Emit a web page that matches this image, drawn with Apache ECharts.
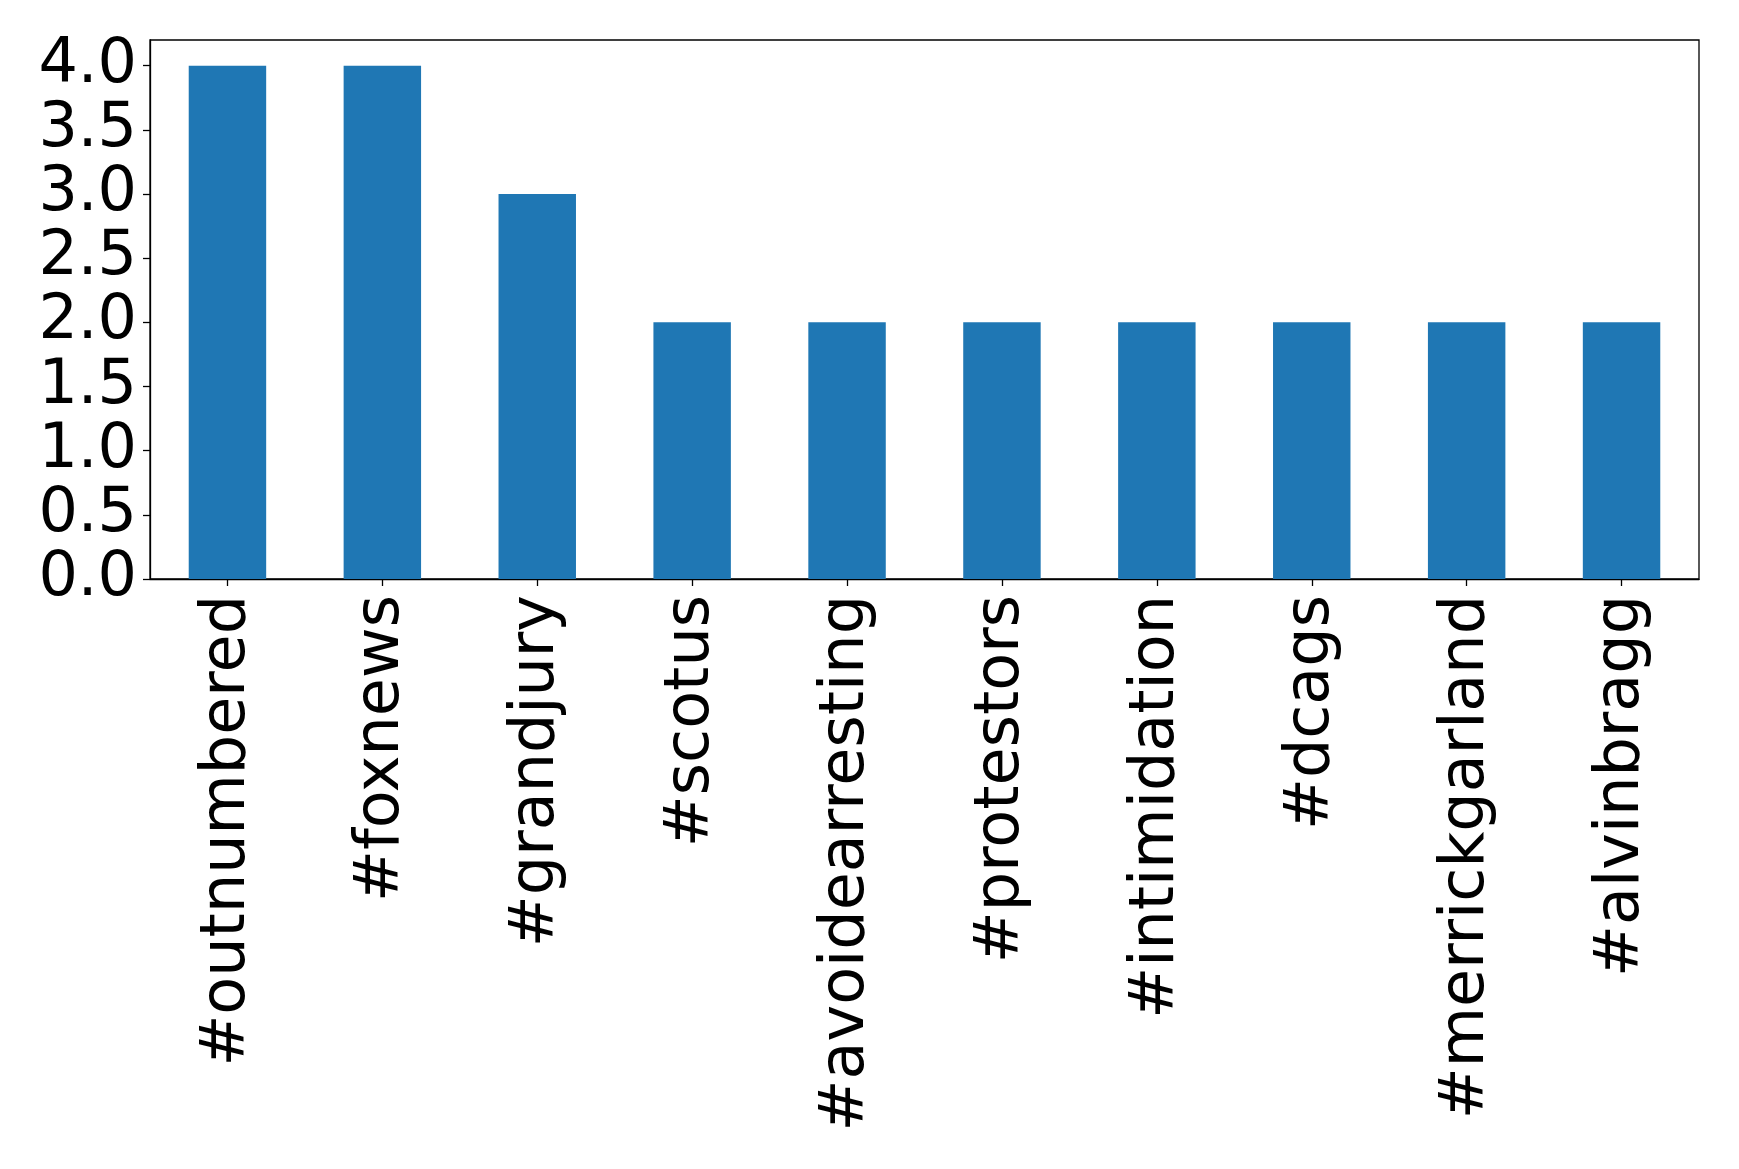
<!DOCTYPE html>
<html>
<head>
<meta charset="utf-8">
<script src="https://cdn.jsdelivr.net/npm/echarts@6/dist/echarts.min.js"></script>
<style>
html,body{margin:0;padding:0;background:#fff;}
#chart{width:1739px;height:1169px;}
</style>
</head>
<body>
<div id="chart"></div>
<script>
const categories = ['#outnumbered','#foxnews','#grandjury','#scotus','#avoidearresting','#protestors','#intimidation','#dcags','#merrickgarland','#alvinbragg'];
const counts = [4, 4, 3, 2, 2, 2, 2, 2, 2, 2];
const yTicks = [0, 0.5, 1, 1.5, 2, 2.5, 3, 3.5, 4];

const chart = echarts.init(document.getElementById('chart'), null, {renderer: 'canvas'});
chart.setOption({
  animation: false,
  grid: {left: 150, top: 40, width: 1549, height: 539, show: true, borderColor: '#000', borderWidth: 1.3, backgroundColor: 'transparent'},
  xAxis: {
    type: 'category',
    data: categories,
    boundaryGap: true,
    axisLine: {show: true, lineStyle: {color: '#000', width: 1.3}},
    axisTick: {show: true, alignWithLabel: true, length: 7, lineStyle: {color: '#000', width: 1.3}},
    axisLabel: {rotate: 90, margin: 16, interval: 0, color: '#000', fontSize: 62, fontFamily: 'DejaVu Sans'},
    splitLine: {show: false}
  },
  yAxis: {
    type: 'value',
    min: 0,
    max: 4.2,
    interval: 0.5,
    axisLine: {show: true, lineStyle: {color: '#000', width: 1.3}},
    axisTick: {show: true, length: 7, customValues: yTicks, lineStyle: {color: '#000', width: 1.3}},
    axisLabel: {margin: 13, color: '#000', fontSize: 62, fontFamily: 'DejaVu Sans', customValues: yTicks, formatter: v => v.toFixed(1)},
    splitLine: {show: false}
  },
  series: [{
    type: 'bar',
    data: counts,
    barWidth: '50%',
    itemStyle: {color: '#1f77b4'}
  }]
});
</script>
</body>
</html>
